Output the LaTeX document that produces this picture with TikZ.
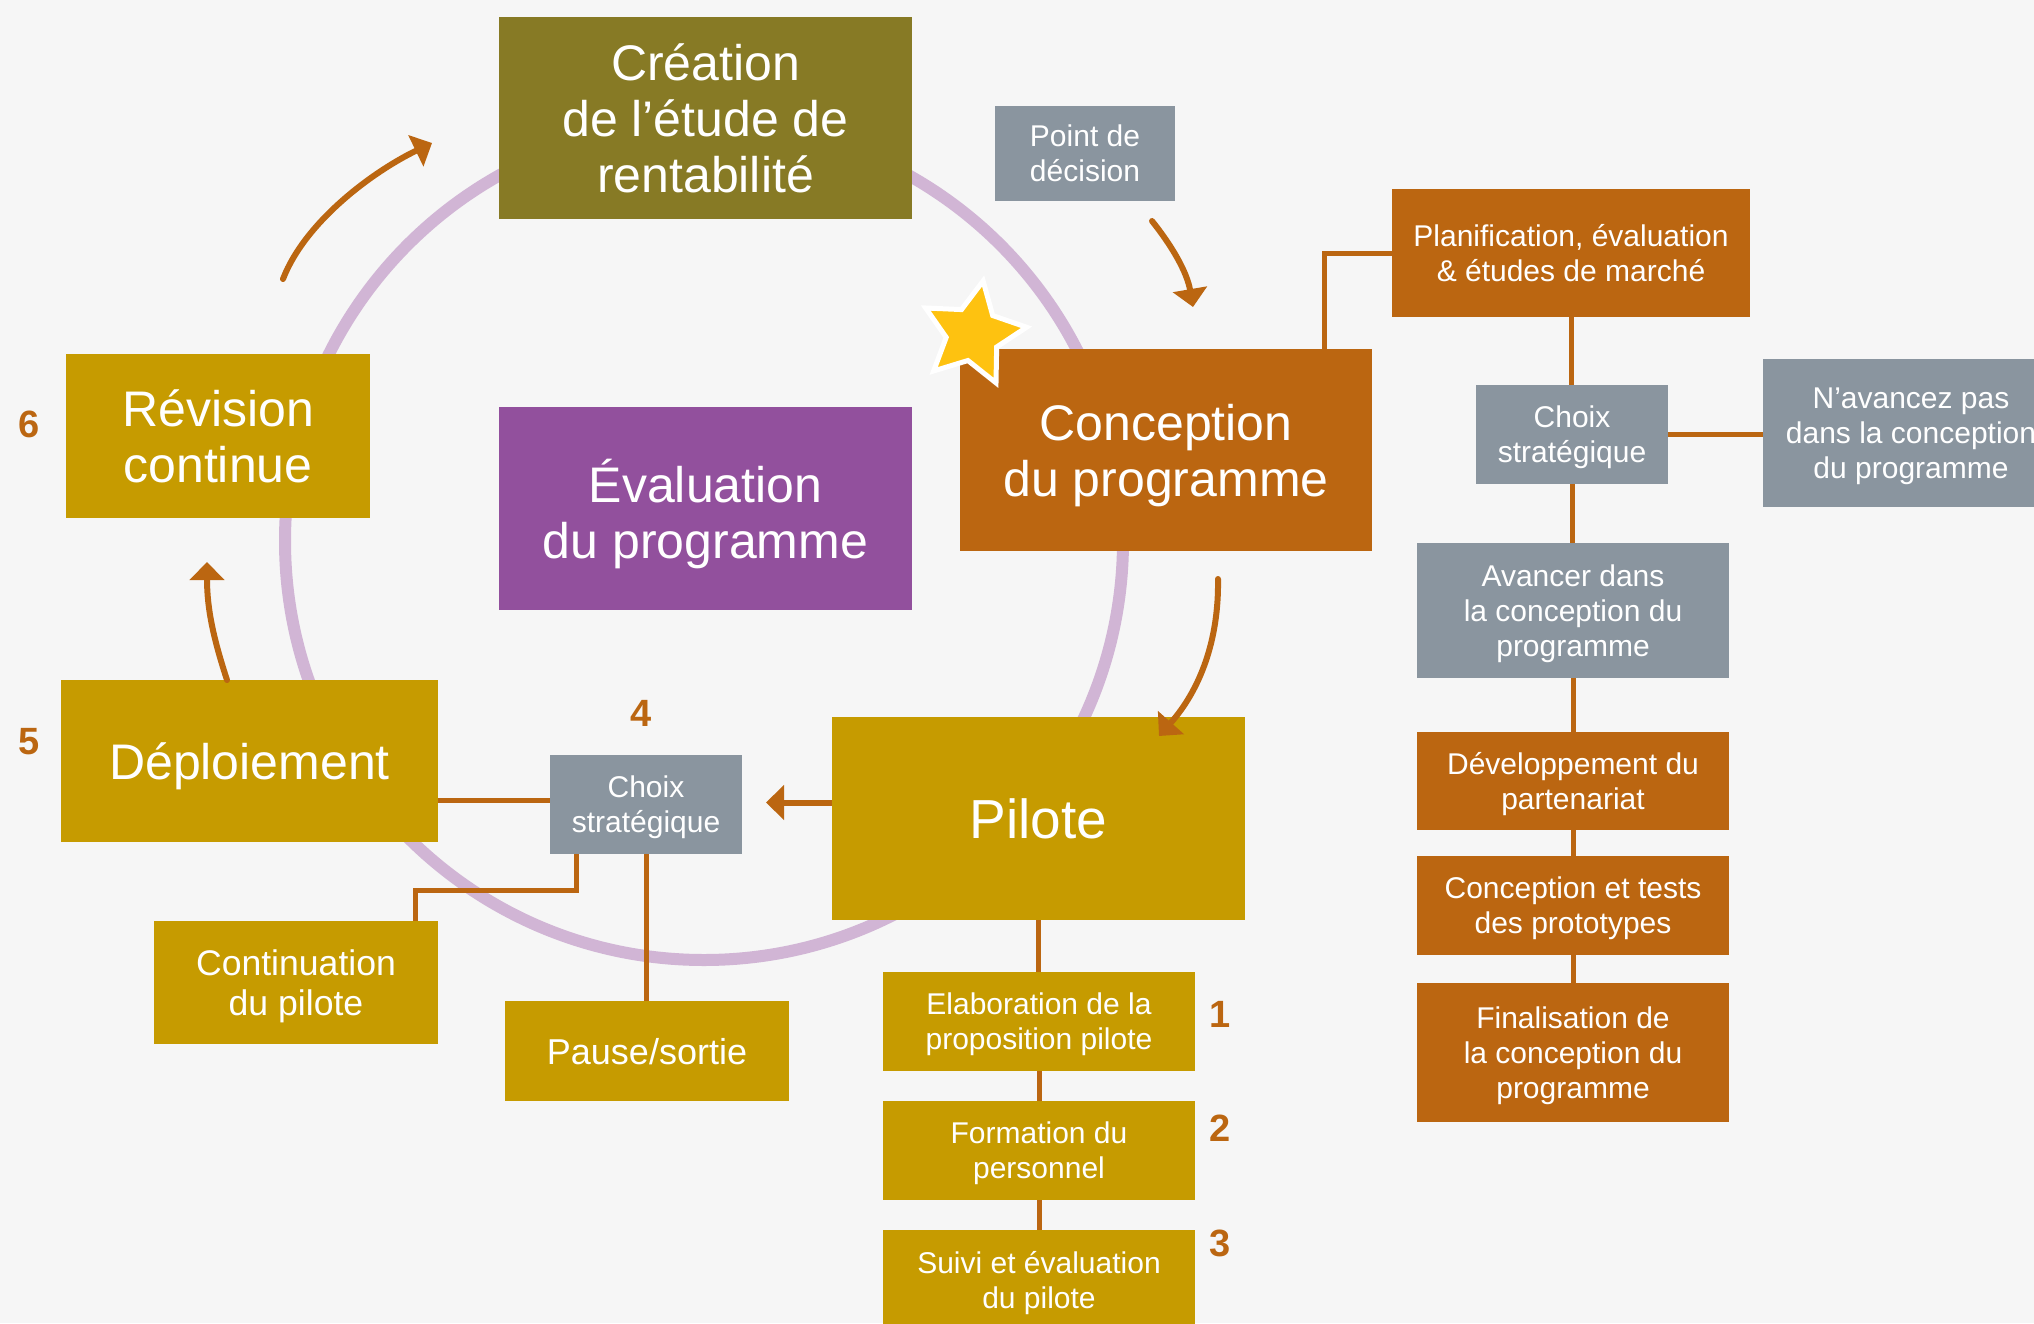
\documentclass[tikz,border=0pt]{standalone}
\usepackage{fontspec}
\setmainfont{Liberation Sans}
\usetikzlibrary{arrows.meta}
\definecolor{bgc}{HTML}{F6F6F6}
\definecolor{oliveC}{HTML}{877A25}
\definecolor{purpleC}{HTML}{92509D}
\definecolor{orangeC}{HTML}{BB6611}
\definecolor{goldC}{HTML}{C69B00}
\definecolor{grayC}{HTML}{8A959F}
\definecolor{lavC}{HTML}{D1B5D5}
\definecolor{starC}{HTML}{FEC210}
\begin{document}
\begin{tikzpicture}[x=0.5pt,y=-0.5pt,
  box/.style={rectangle, inner sep=0pt, text=white, align=center, text depth=0pt},
  big/.style={box, font=\fontsize{25pt}{28pt}\selectfont},
  small/.style={box, font=\fontsize{15pt}{17.5pt}\selectfont},
  mid/.style={box, font=\fontsize{17.8pt}{20pt}\selectfont},
  conn/.style={draw=orangeC, line width=2.5pt},
  arr/.style={draw=orangeC, line width=3pt, line cap=round, -{Triangle[length=9pt,width=17pt]}},
  num/.style={text=orangeC, inner sep=0pt, font=\fontsize{19pt}{22pt}\selectfont\bfseries}]
\useasboundingbox (0,0) rectangle (2034,1323);
\clip (0,0) rectangle (2034,1323);
\fill[bgc] (0,0) rectangle (2034,1323);

% cycle circle
\draw[lavC, line width=6pt] (704,541) circle[radius=419];

% main boxes
\node[big, fill=oliveC, minimum width=206.5pt, minimum height=101pt] (creation) at (705.5,118) {Création\\de l’étude de\\rentabilité};
\node[big, fill=purpleC, minimum width=206.5pt, minimum height=101.5pt] (evaluation) at (705.5,508.5) {Évaluation\\du programme};
\node[big, fill=orangeC, minimum width=206pt, minimum height=101pt] (conception) at (1166,450) {Conception\\du programme};
\node[big, fill=goldC, minimum width=152pt, minimum height=82pt] (revision) at (218,436) {Révision\\continue};
\node[big, fill=goldC, minimum width=188.5pt, minimum height=81pt] (deploiement) at (249.5,761) {Déploiement};
\node[box, fill=goldC, minimum width=206.5pt, minimum height=101.5pt, font=\fontsize{27.5pt}{32pt}\selectfont] (pilote) at (1038.5,818.5) {Pilote};

% decision point
\node[small, fill=grayC, minimum width=90pt, minimum height=47.5pt] (point) at (1085,153.5) {Point de\\décision};

% right column
\node[small, fill=orangeC, minimum width=179pt, minimum height=64pt] (planif) at (1571,253) {Planification, évaluation\\\& études de marché};
\node[small, fill=grayC, minimum width=96pt, minimum height=49.5pt] (choixR) at (1572,434.5) {Choix\\stratégique};
\node[small, fill=grayC, minimum width=148pt, minimum height=74pt] (navancez) at (1911,433) {N’avancez pas\\dans la conception\\du programme};
\node[small, fill=grayC, minimum width=156pt, minimum height=67.5pt] (avancer) at (1573,610.5) {Avancer dans\\la conception du\\programme};
\node[small, fill=orangeC, minimum width=156pt, minimum height=49pt] (devel) at (1573,781) {Développement du\\partenariat};
\node[small, fill=orangeC, minimum width=156pt, minimum height=49.5pt] (conctests) at (1573,905.5) {Conception et tests\\des prototypes};
\node[small, fill=orangeC, minimum width=156pt, minimum height=69.5pt] (final) at (1573,1052.5) {Finalisation de\\la conception du\\programme};

% left lower part
\node[small, fill=grayC, minimum width=96pt, minimum height=49.5pt] (choixL) at (646,804.5) {Choix\\stratégique};
\node[mid, fill=goldC, minimum width=142pt, minimum height=61.5pt] (continuation) at (296,982.5) {Continuation\\du pilote};
\node[box, fill=goldC, minimum width=142pt, minimum height=50pt, font=\fontsize{18pt}{20pt}\selectfont] (pause) at (647,1051) {Pause/sortie};

% pilot steps
\node[small, fill=goldC, minimum width=156pt, minimum height=49.5pt] (elab) at (1039,1021.5) {Elaboration de la\\proposition pilote};
\node[small, fill=goldC, minimum width=156pt, minimum height=49.5pt] (formation) at (1039,1150.5) {Formation du\\personnel};
\node[small, fill=goldC, minimum width=156pt, minimum height=49.5pt] (suivi) at (1039,1279.5) {Suivi et évaluation\\du pilote};

% connectors
\draw[conn] ([xshift=-24pt]conception.north east) |- (planif.west);
\draw[conn] (planif.south) -- (planif.south |- choixR.north);
\draw[conn] (choixR.east) -- (choixR.east -| navancez.west);
\draw[conn] (choixR.south) -- (choixR.south |- avancer.north);
\draw[conn] (avancer.south) -- (avancer.south |- devel.north);
\draw[conn] (devel.south) -- (devel.south |- conctests.north);
\draw[conn] (conctests.south) -- (conctests.south |- final.north);
\draw[conn] ([yshift=2pt]choixL.west) -- ([yshift=2pt]choixL.west -| deploiement.east);
\draw[conn] ([xshift=13.5pt]choixL.south west) -- ++(0,36) -| ([xshift=-11.5pt]continuation.north east);
\draw[conn] (choixL.south) -- (choixL.south |- pause.north);
\draw[conn] (pilote.south) -- (pilote.south |- elab.north);
\draw[conn] (elab.south) -- (elab.south |- formation.north);
\draw[conn] (formation.south) -- (formation.south |- suivi.north);

% curved arrows
\coordinate (a1s) at (283,279);
\coordinate (a1e) at (432,143);
\draw[arr] (a1s) .. controls (305,222) and (372,172) .. (a1e);
\coordinate (a2s) at (1152,221);
\coordinate (a2e) at (1193,307);
\draw[arr] (a2s) .. controls (1172,246) and (1187,272) .. (a2e);
\coordinate (a3s) at (1218,579);
\coordinate (a3e) at (1159,736);
\draw[arr] (a3s) .. controls (1219,640) and (1200,690) .. (a3e);
\coordinate (a4s) at (227,680);
\coordinate (a4e) at (207,562);
\draw[arr] (a4s) .. controls (214,640) and (207,610) .. (a4e);
\coordinate (a5e) at (766,802.5);
\draw[arr, line cap=butt] (pilote.west |- a5e) -- (a5e);

% star
\begin{scope}[shift={(973,334)}]
\filldraw[fill=starC, draw=white, line width=2.5pt, line join=miter]
  (-79.2:54) -- (-43.2:27)
  -- (-7.2:54) -- (28.8:27)
  -- (64.8:54) -- (100.8:27)
  -- (136.8:54) -- (172.8:27)
  -- (208.8:54) -- (244.8:27) -- cycle;
\end{scope}

% numbers
\node[num] (n1) at (1220,1014) {1};
\node[num] (n2) at (1220,1128) {2};
\node[num] (n3) at (1220,1243.5) {3};
\node[num] (n4) at (641,713) {4};
\node[num] (n5) at (29,742) {5};
\node[num] (n6) at (29,424) {6};
\end{tikzpicture}
\end{document}
